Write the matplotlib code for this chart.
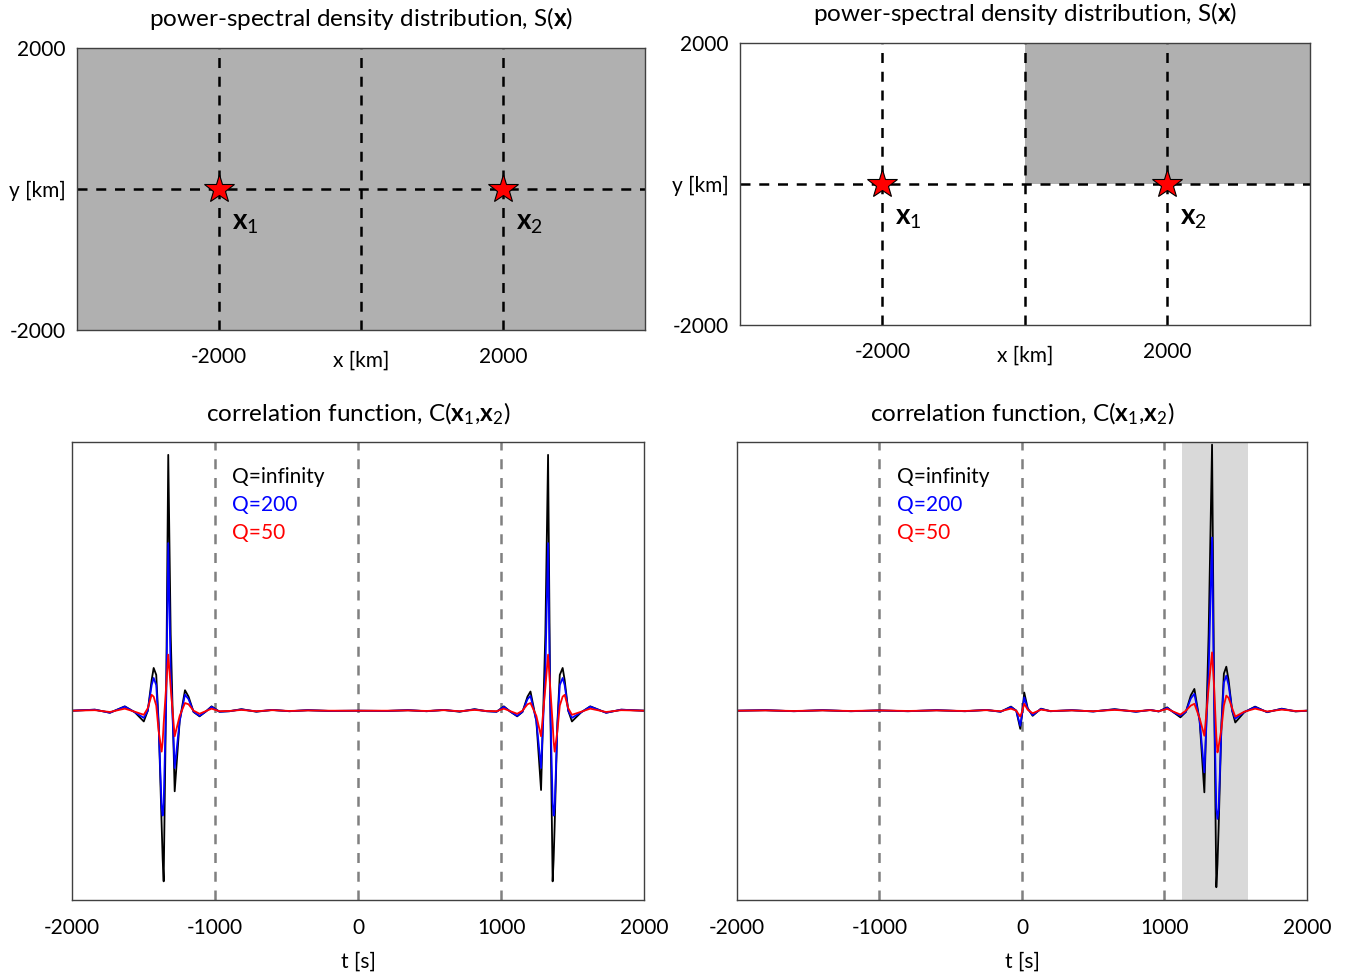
import numpy as np
import matplotlib
matplotlib.use("Agg")
import matplotlib.pyplot as plt

plt.rcParams['font.family'] = ['Lato', 'DejaVu Sans']
plt.rcParams['mathtext.fontset'] = 'custom'
plt.rcParams['mathtext.rm'] = 'Lato'
plt.rcParams['mathtext.it'] = 'Lato:italic'
plt.rcParams['mathtext.bf'] = 'Lato:bold'

# station positions [km]
stations_x = [-2000, 2000]
stations_y = [0, 0]
station_labels = [r'$\mathbf{x}_1$', r'$\mathbf{x}_2$']

# correlation function, homogeneous sources (left), times in s
t_left = [-2000, -1840, -1735, -1631, -1561, -1498, -1470, -1443, -1429, -1411,
          -1394, -1373, -1366, -1359, -1341, -1327, -1310, -1282, -1247, -1210,
          -1185, -1150, -1108, -1066, -1024, -969, -899, -815, -711,
          -600, -480, -350, -200, 0, 200, 350, 480, 600,
          711, 815, 899, 969, 1020, 1066, 1113, 1150, 1185, 1206,
          1247, 1280, 1310, 1329, 1343, 1361, 1368, 1375, 1394, 1411,
          1431, 1445, 1470, 1496, 1561, 1624, 1735, 1840, 2000]
c_left_inf = [0, 0.004, -0.008, 0.017, -0.006, -0.042, 0.0, 0.12, 0.167, 0.14,
              -0.05, -0.45, -0.58, -0.667, 0.1, 1.0, 0.30, -0.315, -0.04, 0.08,
              0.055, -0.005, -0.022, -0.004, 0.017, -0.004, -0.002, 0.006, -0.004,
              0.003, -0.002, 0.002, -0.001, 0.0, -0.001, 0.002, -0.002, 0.003,
              -0.004, 0.006, -0.002, -0.004, 0.017, -0.004, -0.022, -0.005, 0.055, 0.075,
              -0.04, -0.31, 0.30, 1.0, 0.1, -0.667, -0.58, -0.45, -0.05, 0.14,
              0.167, 0.12, 0.0, -0.042, -0.006, 0.017, -0.008, 0.004, 0]
c_left_200 = [0, 0.004, -0.008, 0.016, -0.006, -0.028, 0.0, 0.10, 0.128, 0.10,
              -0.06, -0.38, -0.41, -0.36, 0.05, 0.655, 0.15, -0.224, -0.04, 0.063,
              0.045, -0.004, -0.02, -0.004, 0.015, -0.004, -0.002, 0.005, -0.003,
              0.003, -0.002, 0.002, -0.001, 0.0, -0.001, 0.002, -0.002, 0.003,
              -0.003, 0.005, -0.002, -0.004, 0.015, -0.004, -0.02, -0.004, 0.045, 0.058,
              -0.04, -0.224, 0.15, 0.655, 0.05, -0.36, -0.41, -0.38, -0.06, 0.10,
              0.128, 0.10, 0.0, -0.028, -0.006, 0.016, -0.008, 0.004, 0]
c_left_50 = [0, 0.002, -0.005, 0.008, -0.004, -0.016, 0.01, 0.062, 0.055, 0.02,
             -0.08, -0.16, -0.12, -0.05, 0.10, 0.219, 0.09, -0.10, -0.02, 0.03,
             0.025, 0.0, -0.012, -0.002, 0.008, -0.002, -0.001, 0.003, -0.002,
             0.002, -0.001, 0.001, 0.0, 0.0, 0.0, 0.001, -0.001, 0.002,
             -0.002, 0.003, -0.001, -0.002, 0.008, -0.002, -0.012, 0.0, 0.025, 0.03,
             -0.02, -0.10, 0.09, 0.219, 0.10, -0.05, -0.12, -0.16, -0.08, 0.02,
             0.055, 0.062, 0.01, -0.016, -0.004, 0.008, -0.005, 0.002, 0]

# correlation function, sources in one quadrant (right)
t_right = [-2000, -1800, -1600, -1400, -1200, -1000, -800, -600, -400, -250,
           -150, -77, -40, -12, 0, 16, 40, 75, 133, 200,
           350, 500, 650, 800, 900, 960, 1019, 1060, 1112, 1150,
           1185, 1210, 1247, 1280, 1310, 1334, 1348, 1364, 1372, 1380,
           1400, 1417, 1434, 1450, 1475, 1497, 1560, 1636, 1720, 1823, 1920, 2000]
c_right_inf = [0, 0.002, -0.002, 0.002, -0.002, 0.001, -0.002, 0.002, -0.002, 0.003,
               -0.004, 0.016, 0.0, -0.071, -0.02, 0.071, 0.01, -0.02, 0.008, -0.002,
               0.002, -0.003, 0.006, -0.004, 0.003, -0.003, 0.013, -0.005, -0.026, -0.005,
               0.06, 0.085, -0.04, -0.319, 0.30, 1.04, 0.10, -0.69, -0.60, -0.46,
               -0.05, 0.145, 0.172, 0.12, 0.0, -0.046, -0.006, 0.016, -0.006, 0.008, -0.003, 0]
c_right_200 = [0, 0.002, -0.002, 0.002, -0.002, 0.001, -0.002, 0.002, -0.002, 0.003,
               -0.004, 0.014, 0.0, -0.059, -0.015, 0.052, 0.008, -0.017, 0.007, -0.002,
               0.002, -0.003, 0.005, -0.004, 0.003, -0.003, 0.011, -0.005, -0.02, -0.004,
               0.048, 0.066, -0.04, -0.241, 0.15, 0.677, 0.05, -0.38, -0.423, -0.39,
               -0.06, 0.11, 0.137, 0.10, 0.0, -0.031, -0.005, 0.014, -0.005, 0.007, -0.002, 0]
c_right_50 = [0, 0.001, -0.001, 0.001, -0.001, 0.001, -0.001, 0.001, -0.001, 0.002,
              -0.002, 0.008, 0.0, -0.023, -0.005, 0.027, 0.004, -0.01, 0.004, -0.001,
              0.001, -0.002, 0.003, -0.002, 0.002, -0.002, 0.007, -0.003, -0.015, 0.0,
              0.02, 0.027, -0.03, -0.098, 0.09, 0.228, 0.10, -0.10, -0.163, -0.14,
              -0.07, 0.02, 0.059, 0.05, 0.01, -0.023, -0.004, 0.008, -0.003, 0.004, -0.001, 0]

q_labels = ['Q=infinity', 'Q=200', 'Q=50']
q_colors = ['black', '#0000ff', '#ff0000']
stationary_window = [1120, 1585]

GRAY = '#b0b0b0'
SPINE = '#404040'

fig = plt.figure(figsize=(13.51, 9.75), dpi=100)
ax_tl = fig.add_axes([0.057, 0.6615, 0.4204, 0.2892])
ax_tr = fig.add_axes([0.5477, 0.6667, 0.4219, 0.2892])
ax_bl = fig.add_axes([0.0533, 0.0769, 0.4234, 0.4697])
ax_br = fig.add_axes([0.5455, 0.0769, 0.4219, 0.4697])


def map_panel(ax, quadrant):
    ax.set_xlim(-4000, 4000)
    ax.set_ylim(-2000, 2000)
    if quadrant:
        ax.set_facecolor('white')
        ax.fill_between([0, 4000], 0, 2000, color=GRAY, zorder=0, lw=0)
    else:
        ax.set_facecolor(GRAY)
    for xv in [-2000, 0, 2000]:
        ax.axvline(xv, color='black', ls=(0, (4, 3.5)), lw=1.8, zorder=1)
    ax.axhline(0, color='black', ls=(0, (4, 3.5)), lw=1.8, zorder=1)
    ax.plot(stations_x, stations_y, ls='none', marker='*', ms=22,
            mfc='red', mec='black', mew=0.8, zorder=3)
    for sx, sy, lab in zip(stations_x, stations_y, station_labels):
        ax.text(sx + 180, sy - 480, lab, fontsize=20, ha='left', va='center')
    ax.set_xticks([-2000, 0, 2000])
    ax.set_xticklabels(['-2000', 'x [km]', '2000'])
    ax.set_yticks([-2000, 0, 2000])
    ax.set_yticklabels(['-2000', 'y [km]', '2000'])
    ax.tick_params(axis='y', length=0, labelsize=15, pad=8)
    ax.tick_params(axis='x', length=0, labelsize=15, pad=12)
    # the axis name sits a little lower than the numbers
    ax.get_xticklabels()[1].set_y(-0.015)
    for s in ax.spines.values():
        s.set_color(SPINE)
        s.set_linewidth(1.0)
    ax.set_title(r'power-spectral density distribution, S($\mathbf{x}$)',
                 fontsize=17.5, pad=16)


def corr_panel(ax, t, curves, shade=None):
    ax.set_xlim(-2000, 2000)
    ax.set_ylim(-0.74, 1.05)
    if shade is not None:
        ax.axvspan(shade[0], shade[1], color='#d9d9d9', lw=0, zorder=0)
    for xv in [-1000, 0, 1000]:
        ax.axvline(xv, color='#808080', ls=(0, (4, 3.5)), lw=1.8, zorder=1)
    for c, col in zip(curves, q_colors):
        ax.plot(t, c, color=col, lw=1.3, zorder=2)
    for i, (lab, col) in enumerate(zip(q_labels, q_colors)):
        ax.text(0.28, 0.924 - 0.061 * i, lab, color=col, fontsize=15,
                transform=ax.transAxes, ha='left', va='center')
    ax.set_xticks([-2000, -1000, 0, 1000, 2000])
    ax.set_xticklabels(['-2000', '-1000', '0', '1000', '2000'])
    ax.set_yticks([])
    ax.tick_params(length=0, labelsize=15, pad=13)
    ax.set_xlabel('t [s]', fontsize=15, labelpad=10)
    for s in ax.spines.values():
        s.set_color(SPINE)
        s.set_linewidth(1.0)
    ax.set_title(r'correlation function, C($\mathbf{x}_1$,$\mathbf{x}_2$)',
                 fontsize=17.5, pad=15)


map_panel(ax_tl, quadrant=False)
map_panel(ax_tr, quadrant=True)
corr_panel(ax_bl, t_left, [c_left_inf, c_left_200, c_left_50])
corr_panel(ax_br, t_right, [c_right_inf, c_right_200, c_right_50], shade=stationary_window)

fig.savefig('out.png', dpi=100)
